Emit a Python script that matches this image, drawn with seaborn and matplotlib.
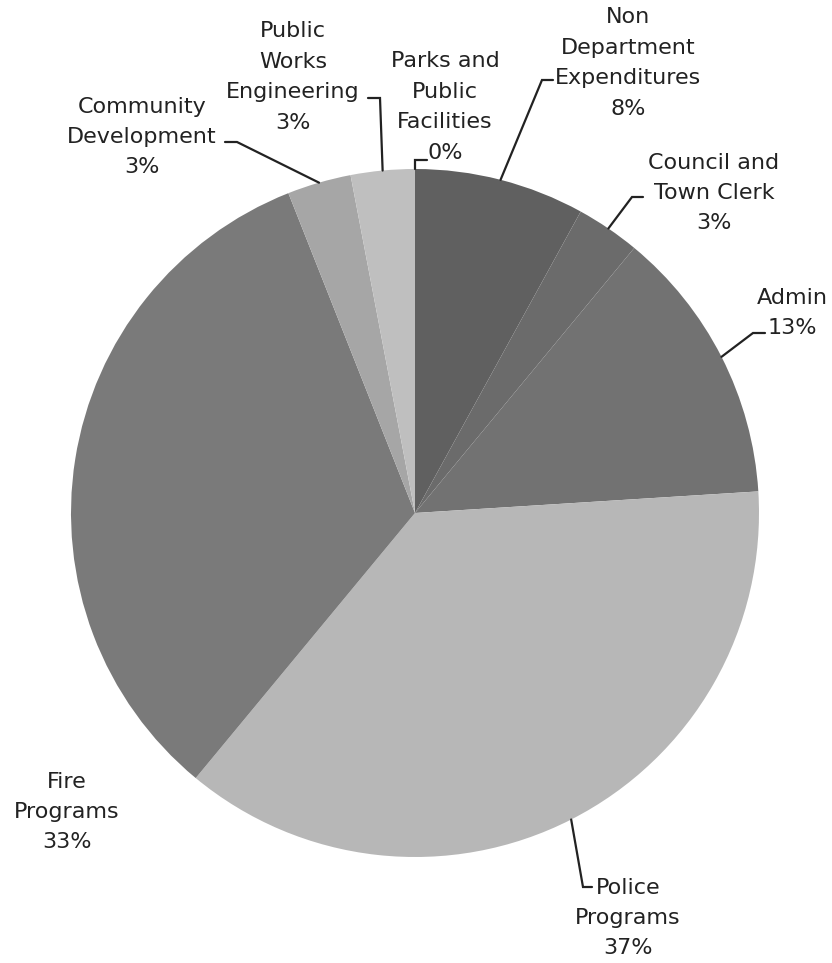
import numpy as np
import matplotlib
matplotlib.use("Agg")
import matplotlib.pyplot as plt
import seaborn as sns

# Budget share by department, in the order the slices run clockwise from 12 o'clock
departments = [
    "Non\nDepartment\nExpenditures",
    "Council and\nTown Clerk",
    "Admin",
    "Police\nPrograms",
    "Fire\nPrograms",
    "Community\nDevelopment",
    "Public\nWorks\nEngineering",
    "Parks and\nPublic\nFacilities",
]
shares = [8, 3, 13, 37, 33, 3, 3, 0]

slice_colors = ["#606060", "#6b6b6b", "#727272", "#b7b7b7",
                "#7a7a7a", "#a6a6a6", "#bfbfbf", "#c8c8c8"]

sns.set_theme(style="white")
plt.rcParams["font.family"] = ["DejaVu Sans"]

W, H = 832, 963
fig = plt.figure(figsize=(W / 100, H / 100), dpi=100)
ax = fig.add_axes([0, 0, 1, 1])

cx, cy, radius = 415, H - 513, 344
wedges, _ = ax.pie(shares, colors=slice_colors, startangle=90, counterclock=False,
                   center=(cx, cy), radius=radius, frame=True,
                   wedgeprops=dict(linewidth=0))
ax.set_xlim(0, W)
ax.set_ylim(0, H)
ax.set_aspect("equal")
ax.axis("off")

# label centre (image px), leader elbow and tick end (image px) or None
label_pos = [(628, 63), (714, 193), (792, 313), (628, 918),
             (67, 812), (142, 137), (293, 77), (445, 107)]
leaders = [((542, 80), (553, 80)), ((632, 197), (643, 197)),
           ((753, 333), (765, 333)), ((583, 887), (592, 887)),
           None, ((237, 142), (225, 142)), ((380, 98), (368, 98)),
           ((415, 160), (427, 160))]

text_color = "#222222"
for name, val, w, (lx, ly), ld in zip(departments, shares, wedges, label_pos, leaders):
    ax.text(lx, H - ly, f"{name}\n{val}%", ha="center", va="center",
            fontsize=16, color=text_color, linespacing=1.65)
    if ld is None:
        continue
    mid = np.deg2rad((w.theta1 + w.theta2) / 2)
    ex, ey = cx + radius * np.cos(mid), cy + radius * np.sin(mid)
    (bx, by), (tx, ty) = ld
    ax.plot([ex, bx, tx], [ey, H - by, H - ty], color=text_color, lw=1.6,
            solid_joinstyle="miter")

fig.savefig("out.png", dpi=100, facecolor="white")
